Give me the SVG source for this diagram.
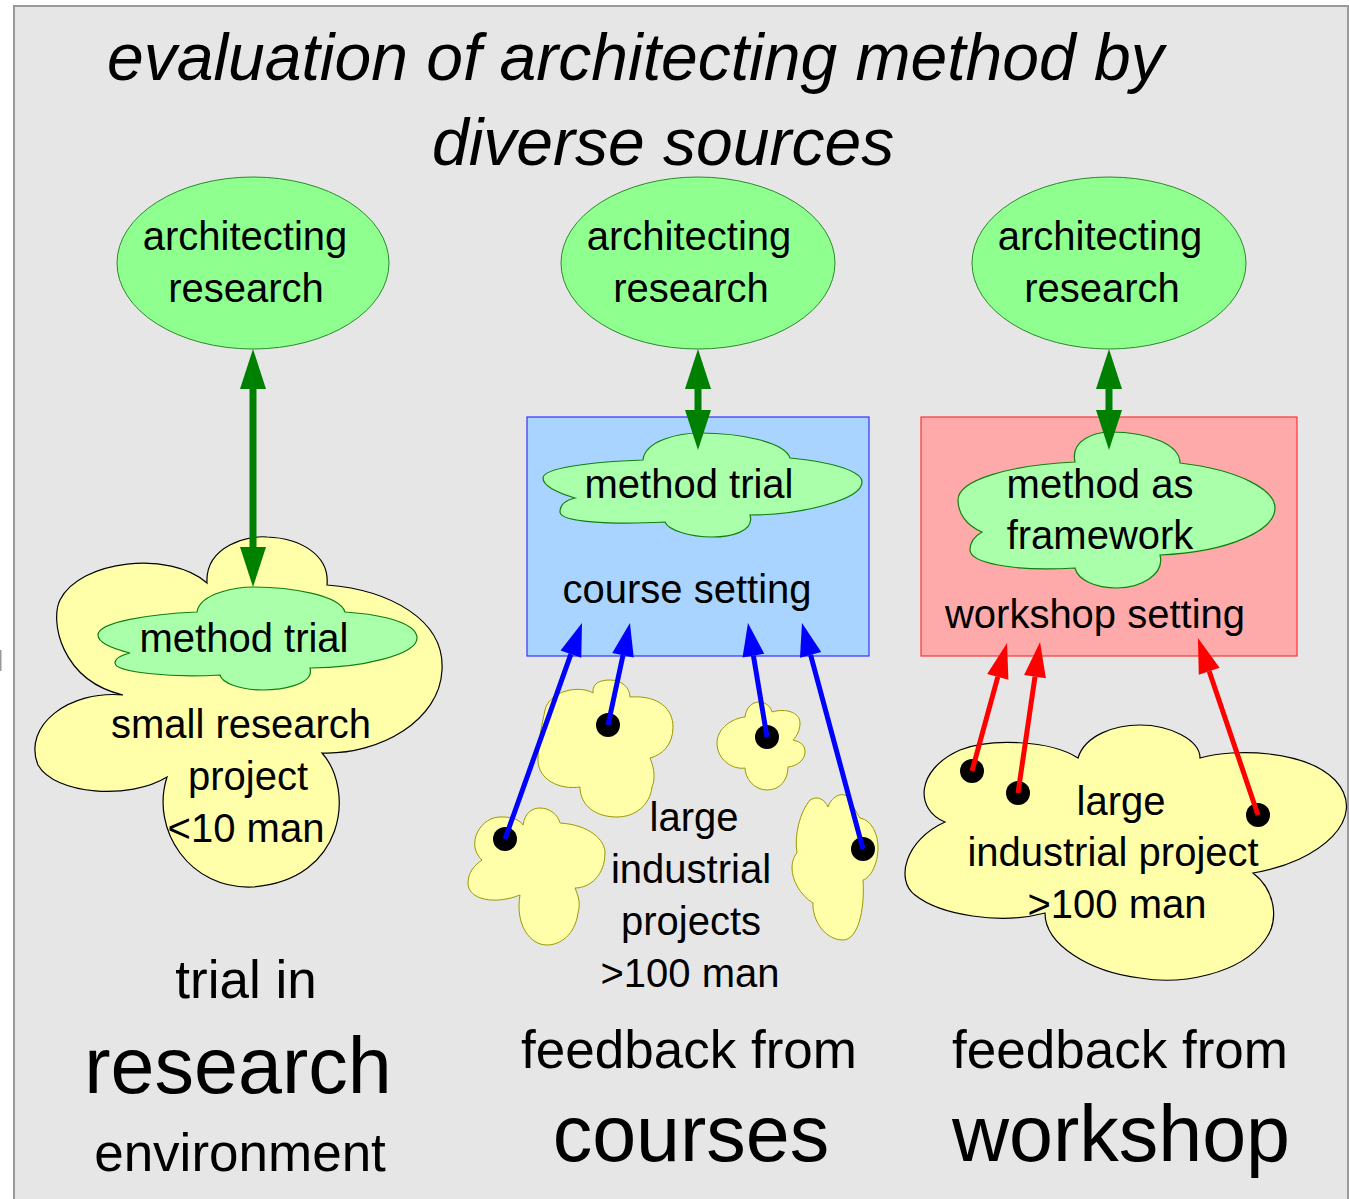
<svg xmlns="http://www.w3.org/2000/svg" width="1349" height="1199" viewBox="0 0 1349 1199">
<defs>
<style>
text{font-family:"Liberation Sans",Arial,sans-serif;fill:#000;text-anchor:middle}
.t40{font-size:40px}
.t53{font-size:53px}
.t79{font-size:79px}
.title{font-size:66px;font-style:italic;text-anchor:start}
.ell{fill:#8fff8f;stroke:#2a8a2a;stroke-width:1}
.gcloud{fill:#aaffaa;stroke:#108010;stroke-width:1.2}
.ycloud{fill:#ffffaa;stroke:#000;stroke-width:1.2}
.ysmall{fill:#ffffaa;stroke:#9a9a00;stroke-width:1}
.dot{fill:#000}
.garrow{stroke:#008000;stroke-width:7;fill:none}
.barrow{stroke:#0000ff;stroke-width:5;fill:none}
.rarrow{stroke:#ff0000;stroke-width:5;fill:none}
</style>
<marker id="mg" markerUnits="userSpaceOnUse" markerWidth="40" markerHeight="26" refX="0" refY="13" orient="auto-start-reverse" overflow="visible"><path d="M0,0 L40,13 L0,26 Z" fill="#008000"/></marker>
<marker id="mb" markerUnits="userSpaceOnUse" markerWidth="33" markerHeight="22" refX="0" refY="11" orient="auto" overflow="visible"><path d="M0,0 L33,11 L0,22 Z" fill="#0000ff"/></marker>
<marker id="mr" markerUnits="userSpaceOnUse" markerWidth="35" markerHeight="22" refX="0" refY="11" orient="auto" overflow="visible"><path d="M0,0 L35,11 L0,22 Z" fill="#ff0000"/></marker>
</defs>
<rect x="0" y="0" width="1349" height="1199" fill="#fff"/>
<rect x="0" y="650" width="1.5" height="21" fill="#999"/>
<rect x="14" y="6" width="1334" height="1210" fill="#e6e6e6" stroke="#9a9a9a" stroke-width="2"/>

<g id="title">
<text class="title" x="107" y="80">evaluation of architecting method by</text>
<text class="title" x="432" y="165">diverse sources</text>
</g>

<g id="research-left">
<ellipse class="ell" cx="253" cy="263" rx="136" ry="86"/>
<text class="t40" x="245" y="250">architecting</text>
<text class="t40" x="246" y="302">research</text>
</g>
<g id="research-mid">
<ellipse class="ell" cx="698" cy="263" rx="137" ry="86"/>
<text class="t40" x="689" y="250">architecting</text>
<text class="t40" x="691" y="302">research</text>
</g>
<g id="research-right">
<ellipse class="ell" cx="1109" cy="263" rx="137" ry="86"/>
<text class="t40" x="1100" y="250">architecting</text>
<text class="t40" x="1102" y="302">research</text>
</g>

<g id="small-research-project">
<path class="ycloud" d="M207,583 C205,545 250,535 267,537 C300,538 330,555 327,585 C390,590 445,620 442,670 C440,720 380,755 322,753 C355,790 345,880 253,887 C190,890 150,830 167,777 C130,800 55,795 38,765 C22,725 70,690 123,695 C60,680 50,620 60,600 C80,560 170,550 207,583 Z"/>
<text class="t40" x="241" y="738">small research</text>
<text class="t40" x="248" y="790">project</text>
<text class="t40" x="246" y="842">&lt;10 man</text>
</g>
<g id="method-trial-left">
<path class="gcloud" d="M197,612 C200,592 240,587 253,587 C290,587 340,595 345,612 C390,615 417,625 417,638 C417,655 360,668 310,668 C315,685 280,690 263,690 C240,690 222,683 220,675 C170,678 115,672 115,663 C115,658 122,655 130,653 C110,648 98,642 98,635 C98,622 150,614 197,612 Z"/>
<text class="t40" x="244" y="652">method trial</text>
</g>

<g id="course-setting">
<rect x="527" y="417" width="342" height="239" fill="#a8d4ff" stroke="#3333ff" stroke-width="1.2"/>
<text class="t40" x="687" y="603">course setting</text>
</g>
<g id="method-trial-mid">
<path class="gcloud" d="M643,460 C645,440 680,433 700,433 C740,433 785,442 790,458 C835,462 862,472 862,482 C862,500 800,515 750,515 C755,532 730,537 712,537 C690,537 668,530 665,522 C610,525 560,522 560,512 C560,505 566,500 575,498 C555,492 543,485 543,478 C543,468 590,462 643,460 Z"/>
<text class="t40" x="689" y="498">method trial</text>
</g>

<g id="workshop-setting">
<rect x="921" y="417" width="376" height="239" fill="#ffaaaa" stroke="#ff3333" stroke-width="1.2"/>
<text class="t40" x="1095" y="628">workshop setting</text>
</g>
<g id="method-framework">
<path class="gcloud" d="M1075,462 C1070,440 1095,432 1110,432 C1150,432 1180,445 1180,463 C1240,470 1275,490 1275,508 C1275,530 1230,552 1160,555 C1165,575 1140,588 1117,588 C1095,588 1078,580 1075,568 C1010,572 970,562 970,550 C970,542 975,536 982,532 C965,525 958,512 958,500 C958,480 1010,465 1075,462 Z"/>
<text class="t40" x="1100" y="498">method as</text>
<text class="t40" x="1100" y="549">framework</text>
</g>

<g id="industrial-projects">
<path class="ysmall" d="M593,693 C592,682 602,680 610,680 C622,680 630,688 630,697 C660,695 673,710 673,727 C673,745 662,755 650,758 C655,770 655,780 652,787 C650,805 635,817 617,817 C595,817 580,805 580,787 C560,790 538,780 538,760 C538,740 542,725 545,710 C550,690 580,685 593,693 Z"/>
<path class="ysmall" d="M482,860 C465,845 480,815 503,817 C512,817 520,820 523,825 C525,812 533,808 540,808 C550,808 558,815 560,823 C590,825 605,840 605,853 C605,875 590,888 575,888 C580,900 580,905 578,913 C575,935 560,945 547,945 C530,945 515,925 520,895 C495,905 468,900 468,883 C468,872 475,865 482,860 Z"/>
<path class="ysmall" d="M745,717 C746,708 752,702 759,702 C766,702 771,707 772,712 C785,708 800,712 800,723 C800,730 797,736 793,740 C802,742 805,746 805,752 C805,760 797,766 788,767 C788,780 780,790 767,790 C754,790 745,778 745,768 C733,770 717,760 717,743 C717,728 733,718 745,717 Z"/>
<path class="ysmall" d="M828,807 C832,795 845,790 850,800 C855,810 858,815 860,818 C872,820 878,835 878,847 C878,865 870,878 863,880 C865,910 858,940 843,940 C825,940 812,920 813,903 C800,895 792,880 792,868 C792,860 795,855 797,853 C794,835 800,812 810,800 C818,795 825,800 828,807 Z"/>
<circle class="dot" cx="608" cy="725" r="12"/>
<circle class="dot" cx="505" cy="839" r="12"/>
<circle class="dot" cx="767" cy="737" r="12"/>
<circle class="dot" cx="863" cy="849" r="12"/>
<text class="t40" x="694" y="831">large</text>
<text class="t40" x="691" y="883">industrial</text>
<text class="t40" x="691" y="935">projects</text>
<text class="t40" x="690" y="987">&gt;100 man</text>
</g>

<g id="large-industrial-project">
<path class="ycloud" d="M945,822 C915,810 915,770 960,750 C990,738 1050,740 1078,758 C1085,735 1115,725 1140,725 C1170,725 1200,740 1200,758 C1235,748 1305,750 1335,780 C1370,818 1320,862 1253,873 C1275,890 1280,920 1265,940 C1240,975 1180,985 1140,978 C1090,972 1045,945 1045,913 C1000,925 940,915 915,895 C895,880 905,840 945,822 Z"/>
<circle class="dot" cx="972" cy="771" r="12"/>
<circle class="dot" cx="1018" cy="793" r="12"/>
<circle class="dot" cx="1258" cy="815" r="12"/>
<text class="t40" x="1121" y="815">large</text>
<text class="t40" x="1113" y="866">industrial project</text>
<text class="t40" x="1117" y="918">&gt;100 man</text>
</g>

<g id="label-left">
<text class="t53" x="246" y="998">trial in</text>
<text class="t79" x="238" y="1093">research</text>
<text class="t53" x="240" y="1171">environment</text>
</g>
<g id="label-mid">
<text class="t53" x="689" y="1068">feedback from</text>
<text class="t79" x="691" y="1161">courses</text>
</g>
<g id="label-right">
<text class="t53" x="1120" y="1068">feedback from</text>
<text class="t79" x="1121" y="1161">workshop</text>
</g>

<g id="connectors">
<line class="garrow" x1="253" y1="389" x2="253" y2="547" marker-start="url(#mg)" marker-end="url(#mg)"/>
<line class="garrow" x1="698" y1="389" x2="698" y2="410" marker-start="url(#mg)" marker-end="url(#mg)"/>
<line class="garrow" x1="1109" y1="389" x2="1109" y2="410" marker-start="url(#mg)" marker-end="url(#mg)"/>
<line class="barrow" x1="505" y1="839" x2="570.9" y2="654.1" marker-end="url(#mb)"/>
<line class="barrow" x1="608" y1="725" x2="623.0" y2="655.3" marker-end="url(#mb)"/>
<line class="barrow" x1="767" y1="737" x2="753.4" y2="655.6" marker-end="url(#mb)"/>
<line class="barrow" x1="863" y1="849" x2="810.6" y2="654.9" marker-end="url(#mb)"/>
<line class="rarrow" x1="972" y1="771" x2="997.8" y2="676.8" marker-end="url(#mr)"/>
<line class="rarrow" x1="1018" y1="793" x2="1035.0" y2="676.6" marker-end="url(#mr)"/>
<line class="rarrow" x1="1258" y1="815" x2="1209.2" y2="671.2" marker-end="url(#mr)"/>
</g>
</svg>
